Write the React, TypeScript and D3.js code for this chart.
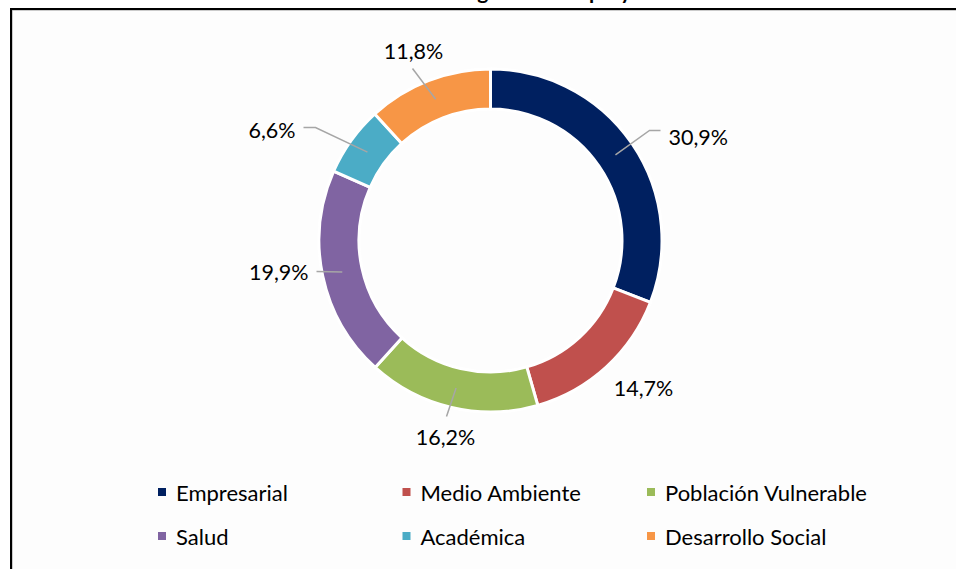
import * as d3 from "d3";

const categories = [
  "Empresarial",
  "Medio Ambiente",
  "Población Vulnerable",
  "Salud",
  "Académica",
  "Desarrollo Social",
];
const values = [30.9, 14.7, 16.2, 19.9, 6.6, 11.8];
const colors = ["#002060", "#C0504D", "#9BBB59", "#8064A2", "#4BACC6", "#F79646"];
const title = "Distribución de categoría de los proyectos";

const width = 956;
const height = 569;
const cx = 490.5;
const cy = 240.5;
const outerR = 171.5;
const innerR = 131.5;
const font = "Lato, 'Open Sans', sans-serif";

// label anchor (relative to centre), text-anchor, and optional elbow for the leader line
const labelLayout = [
  { x: 178, y: -104, anchor: "start", elbow: [159, -110], end: [170, -110] },
  { x: 153, y: 147, anchor: "middle", elbow: null, end: null },
  { x: -45, y: 196, anchor: "middle", elbow: null, end: [-44, 176] },
  { x: -182, y: 31, anchor: "end", elbow: null, end: [-174, 31] },
  { x: -195, y: -111, anchor: "end", elbow: [-175, -113], end: [-187, -113] },
  { x: -77, y: -190, anchor: "middle", elbow: null, end: [-78, -172] },
];

const fmt = (v: number) => v.toFixed(1).replace(".", ",") + "%";

export default function App() {
  const pie = d3
    .pie<number>()
    .sort(null)
    .value((d) => d);
  const arcs = pie(values);
  const arc = d3.arc<d3.PieArcDatum<number>>().innerRadius(innerR).outerRadius(outerR);
  const mid = d3
    .arc<d3.PieArcDatum<number>>()
    .innerRadius((innerR + outerR) / 2)
    .outerRadius((innerR + outerR) / 2);

  const legendX = d3.scalePoint<number>().domain([0, 1, 2]).range([158, 647]);
  const legendY = d3.scalePoint<number>().domain([0, 1]).range([492, 536]);

  return (
    <svg
      width={width}
      height={height}
      style={{ position: "absolute", left: 0, top: 0, background: "#fff" }}
    >
      <rect x={12} y={10} width={960} height={580} fill="#fdfdfd" stroke="#9a9a9a" strokeWidth={1} />
      <rect x={11} y={9} width={960} height={580} fill="none" stroke="#000" strokeWidth={2} />
      <text
        x={290}
        y={-1}
        fontFamily={font}
        fontWeight="bold"
        fontSize={21}
        fill="#000"
      >
        {title}
      </text>
      <g transform={`translate(${cx},${cy})`}>
        {arcs.map((a, i) => (
          <path key={i} d={arc(a) || ""} fill={colors[i]} stroke="#fff" strokeWidth={3} />
        ))}
        {arcs.map((a, i) => {
          const L = labelLayout[i];
          const pts: [number, number][] = [mid.centroid(a)];
          if (L.elbow) pts.push(L.elbow as [number, number]);
          if (L.end) pts.push(L.end as [number, number]);
          return (
            <g key={i}>
              {pts.length > 1 && (
                <path
                  d={d3.line()(pts) || ""}
                  fill="none"
                  stroke="#a6a6a6"
                  strokeWidth={1.5}
                />
              )}
              <text
                x={L.x}
                y={L.y}
                textAnchor={L.anchor}
                dominantBaseline="central"
                fontFamily={font}
                fontSize={21.5}
                fill="#000"
              >
                {fmt(values[i])}
              </text>
            </g>
          );
        })}
      </g>
      <g>
        {categories.map((c, i) => {
          const x = legendX(i % 3) as number;
          const y = legendY(Math.floor(i / 3)) as number;
          return (
            <g key={c} transform={`translate(${x},${y})`}>
              <rect x={0} y={-4} width={8} height={8} fill={colors[i]} />
              <text
                x={18}
                y={0}
                dominantBaseline="central"
                fontFamily={font}
                fontSize={22}
                fill="#000"
              >
                {c}
              </text>
            </g>
          );
        })}
      </g>
    </svg>
  );
}
